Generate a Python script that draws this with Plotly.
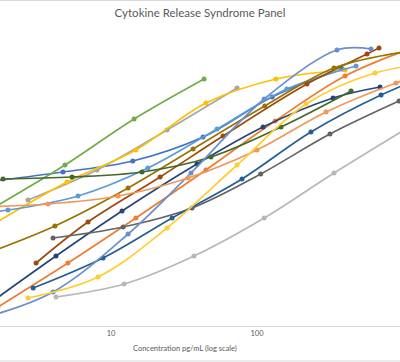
import plotly.graph_objects as go

# Concentrations (pg/mL) and responses (arbitrary units)
names = ["IL-6", "IL-10", "IFN-γ", "TNF-α", "IL-2", "IL-8",
         "IL-1β", "IL-4", "GM-CSF", "IL-12p70", "IL-13", "IL-17A",
         "MCP-1", "IP-10", "IL-5", "MIP-1β"]

colors = ["#4472C4", "#ED7D31", "#A5A5A5", "#FFC000", "#5B9BD5", "#70AD47",
          "#264478", "#9E480E", "#636363", "#997300", "#255E91", "#43682B",
          "#698ED0", "#F1975A", "#B7B7B7", "#FFCD33"]

x_il6 = [1.56, 4.69, 14.1, 42.7, 127, 382]
y_il6 = [145, 154, 165, 189, 229, 257]
x_il10 = [1.68, 5.07, 14.8, 44.7, 133, 401, 1208]
y_il10 = [19, 63, 108, 156, 205, 250, 279]
x_ifng = [2.70, 8.02, 24.2, 73.0]
y_ifng = [126, 156, 196, 238]
x_tnfa = [1.66, 5.00, 14.8, 44.7, 135, 401]
y_tnfa = [104, 144, 176, 223, 247, 256]
x_il2 = [0.65, 1.97, 5.94, 17.9, 53.2, 160, 477]
y_il2 = [110, 116, 130, 158, 197, 237, 260]
x_il8 = [1.60, 4.84, 14.4, 43.4]
y_il8 = [119, 161, 207, 247]
x_il1b = [1.39, 4.20, 11.9, 38.8, 110, 332, 696]
y_il1b = [20, 70, 115, 162, 199, 228, 239]
x_il4 = [3.07, 6.96, 21.7, 58.5, 220, 567, 685]
y_il4 = [63, 104, 149, 190, 242, 272, 278]
x_gmcsf = [4.01, 12.1, 35.9, 106, 316, 939]
y_gmcsf = [88, 99, 118, 152, 192, 225]
x_il12 = [1.37, 4.13, 13.1, 36.5, 113, 337, 1016]
y_il12 = [72, 100, 138, 177, 220, 258, 274]
x_il13 = [2.93, 8.82, 26.2, 78.9, 234, 707, 2133]
y_il13 = [38, 68, 108, 147, 194, 231, 260]
x_il17 = [1.82, 5.41, 16.3, 48.4, 146, 441]
y_il17 = [147, 149, 154, 169, 199, 235]
x_mcp1 = [1.33, 4.01, 13.1, 35.3, 112, 353, 604]
y_mcp1 = [8, 34, 92, 153, 227, 276, 277]
x_ip10 = [1.23, 3.70, 11.2, 33.7, 100, 297, 895, 2704]
y_ip10 = [119, 122, 130, 148, 176, 214, 243, 266]
x_il5 = [4.20, 12.3, 37.0, 112, 337, 1016]
y_il5 = [29, 42, 70, 108, 153, 196]
x_mip1b = [2.70, 8.15, 24.2, 73.0, 217, 643, 1941]
y_mip1b = [28, 49, 98, 161, 222, 253, 264]

xs = [x_il6, x_il10, x_ifng, x_tnfa, x_il2, x_il8, x_il1b, x_il4, x_gmcsf,
      x_il12, x_il13, x_il17, x_mcp1, x_ip10, x_il5, x_mip1b]
ys = [y_il6, y_il10, y_ifng, y_tnfa, y_il2, y_il8, y_il1b, y_il4, y_gmcsf,
      y_il12, y_il13, y_il17, y_mcp1, y_ip10, y_il5, y_mip1b]

FONT = "Lato, sans-serif"
TXT = "#595959"

fig = go.Figure()
for n, c, x, y in zip(names, colors, xs, ys):
    fig.add_trace(go.Scatter(
        x=x, y=y, name=n, mode="lines+markers",
        line=dict(color=c, width=1.7, shape="spline", smoothing=1.0),
        marker=dict(color=c, size=5, symbol="circle"),
        hoverinfo="skip", showlegend=False))

T, B = 20, 36
H = 362
ph = H - T - B

fig.update_layout(
    width=400, height=H,
    margin=dict(l=0, r=0, t=T, b=B, pad=0),
    paper_bgcolor="white", plot_bgcolor="white",
    title=dict(text="Cytokine Release Syndrome Panel", x=0.5, xanchor="center",
               y=1 - 13 / H, yanchor="middle",
               font=dict(family=FONT, size=11.5, color=TXT)),
    xaxis=dict(type="log", range=[1 - 111 / 146, 1 + 289 / 146],
               tickvals=[10, 100], ticktext=["10", "100"],
               showgrid=False, zeroline=False, showline=True,
               linecolor="#D9D9D9", linewidth=1, ticks="",
               tickfont=dict(family=FONT, size=7.5, color=TXT)),
    yaxis=dict(range=[0, ph], visible=False, showgrid=False),
    annotations=[
        dict(text="1000", x=3, xref="x", y=(326 - 334) / ph, yref="paper",
             xanchor="center", yanchor="middle", showarrow=False,
             font=dict(family=FONT, size=7.5, color=TXT)),
        dict(text="Concentration pg/mL (log scale)", x=185 / 400, xref="paper",
             y=(326 - 348) / ph, yref="paper", xanchor="center", yanchor="middle",
             showarrow=False, font=dict(family=FONT, size=7.5, color=TXT)),
    ],
    shapes=[
        dict(type="line", xref="paper", yref="paper", x0=0, x1=1,
             y0=(326 - 0.5) / ph, y1=(326 - 0.5) / ph,
             line=dict(color="#D9D9D9", width=1)),
        dict(type="line", xref="paper", yref="paper", x0=0, x1=1,
             y0=(326 - 361) / ph, y1=(326 - 361) / ph,
             line=dict(color="#D9D9D9", width=1)),
    ],
)

fig.write_html("out.html",
               config={"displayModeBar": False, "staticPlot": True},
               post_script="document.body.style.margin='0';document.body.style.overflow='hidden';")
